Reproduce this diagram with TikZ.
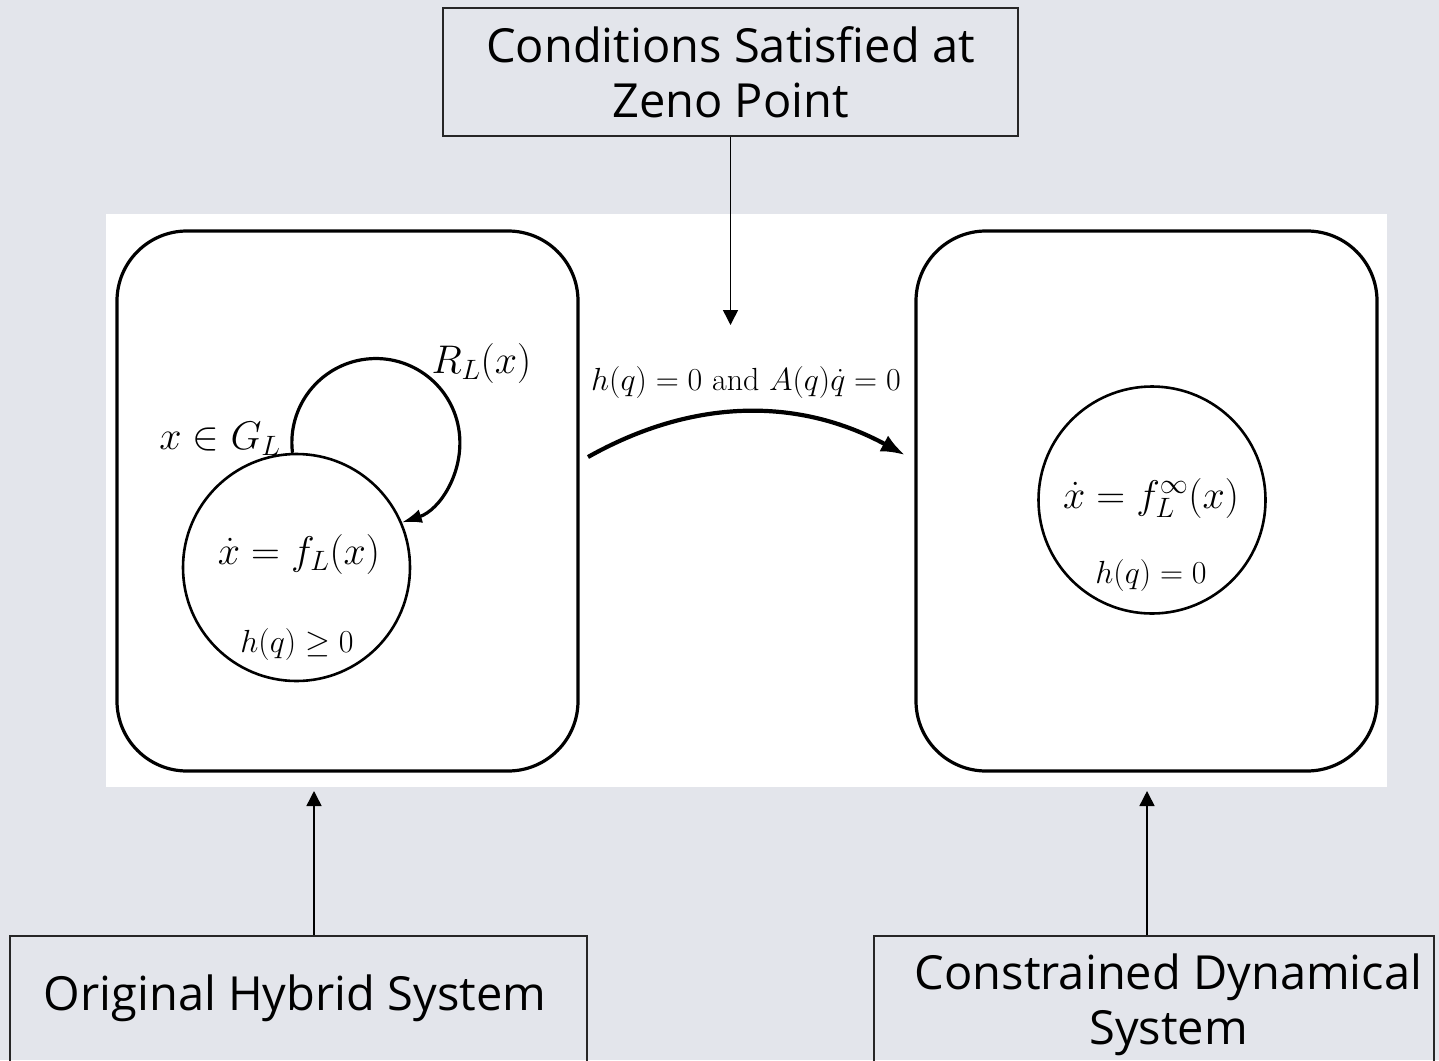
\RequirePackage{fix-cm}
\documentclass[tikz,border=0pt]{standalone}
\usepackage{fontspec}
\newfontfamily\boxfont{Open Sans}
\usetikzlibrary{arrows.meta}
\definecolor{bg}{RGB}{227,229,235}
\tikzset{
  lbl/.style={font=\boxfont\fontsize{47}{55}\selectfont, inner sep=0pt},
  tbox/.style={draw=black!85, line width=1.5pt, inner sep=0pt},
  thinarrow/.style={line width=1.5pt, -{Triangle[length=15pt,width=15pt]}},
  rbox/.style={draw, line width=3.2pt, rounded corners=70pt, minimum width=461pt, minimum height=540pt, inner sep=0pt},
  statecirc/.style={draw, circle, line width=2.6pt, minimum size=227pt, inner sep=0pt},
  bigmath/.style={font=\fontsize{40}{46}\selectfont, inner sep=0pt},
  smallmath/.style={font=\fontsize{32}{38}\selectfont, inner sep=0pt},
}
\begin{document}
\begin{tikzpicture}[x=1pt,y=-1pt]
\useasboundingbox (0,0) rectangle (1439,1060);
\clip (0,0) rectangle (1439,1060);
\fill[bg] (0,0) rectangle (1439,1060);
\fill[white] (106,214) rectangle (1387,787);

% rounded system boxes
\node[rbox] (hyb) at (347.5,501) {};
\node[rbox] (cons) at (1146.5,501) {};

% states
\node[statecirc] (fl) at (296.5,567.5) {};
\node[statecirc] (finf) at (1152,500) {};

\node[bigmath, anchor=base] (fltxt) at (299,564) {$\dot x = f_L(x)$};
\node[smallmath, anchor=base] (hge) at (297,652) {$h(q) \geq 0$};
\node[bigmath, anchor=base] (finftxt) at (1151,508) {$\dot x = f_L^\infty(x)$};
\node[smallmath, anchor=base] (heq) at (1151,583) {$h(q) = 0$};
\node[bigmath, anchor=base] (gl) at (220,449) {$x \in G_L$};
\node[bigmath, anchor=base] (rl) at (481.5,373) {$R_L(x)$};
\node[smallmath, anchor=base] (cond) at (746,390) {$h(q)=0$ and $A(q)\dot q=0$};

% self loop
\draw[line width=3.2pt, -{Latex[length=20pt,width=14pt]}] (fl.92) arc[start angle=173, end angle=432, radius=84];

% transition
\coordinate (tstart) at (588,457);
\coordinate (tend) at (905,455);
\draw[line width=4.2pt, -{Latex[length=24pt,width=18pt]}] (tstart) .. controls (693,398) and (798,397) .. (tend);

% caption boxes
\node[tbox, lbl, minimum width=575pt, minimum height=128pt, align=center] (zeno) at (730.5,72) {Conditions Satisfied at\\Zeno Point};
\coordinate (zt) at (730.5,325);
\draw[thinarrow] (zeno.south) -- (zt);

\node[tbox, anchor=north, minimum width=577pt, minimum height=200pt] (obox) at (298.5,935) {};
\node[lbl, anchor=base] (otxt) at (295,1010) {Original Hybrid System};
\coordinate (ot) at (314,791);
\draw[thinarrow] (obox.north -| ot) -- (ot);

\node[tbox, anchor=north, minimum width=560pt, minimum height=200pt] (cbox) at (1154,935) {};
\node[lbl, align=center] (ctxt) at (1168.5,1005) {Constrained Dynamical\\System};
\coordinate (ct) at (1147,791);
\draw[thinarrow] (cbox.north -| ct) -- (ct);
\end{tikzpicture}
\end{document}
